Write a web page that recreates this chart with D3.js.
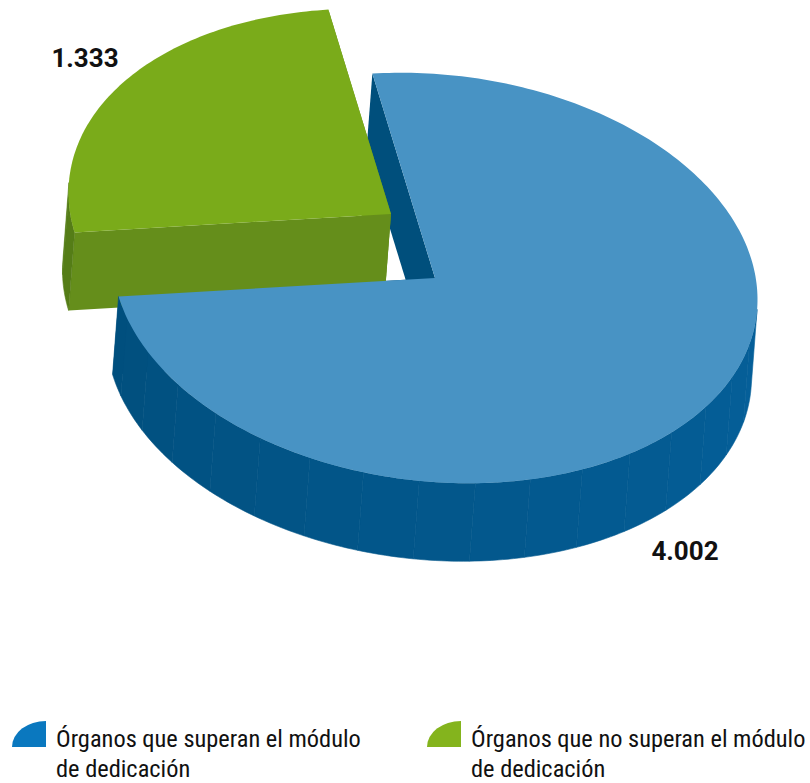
<!doctype html>
<html>
<head>
    <title>Órganos y módulo de dedicación</title>
    <meta charset="utf-8">
    <style type="text/css">
        body { margin: 0; background: #fff; }
        .value-label {
            font-family: Roboto, "Liberation Sans", sans-serif;
            font-weight: bold;
            font-size: 26px;
            fill: #111;
        }
        .legend text {
            font-family: "Liberation Sans Narrow", "Roboto Condensed", "Arial Narrow", sans-serif;
            font-size: 24.4px;
            fill: #111;
        }
    </style>
</head>
<body>
<div id="chart"></div>

<script src="https://d3js.org/d3.v7.min.js"></script>
<script>
    // data
    var categories = [
        ["Órganos que superan el módulo", "de dedicación"],
        ["Órganos que no superan el módulo", "de dedicación"]
    ];
    var values = [4002, 1333];

    // colours: top face, radial wall, outer wall (right -> left), legend swatch
    var topColors = ["#4893C4", "#7AAB1A"];
    var wallColors = ["#004F7C", "#658E1B"];
    var sideColors = [["#05609A", "#004D7B"], ["#557D17", "#557D17"]];
    var legendColors = ["#0A78BF", "#84B41D"];

    var width = 810, height = 783;
    var deg = Math.PI / 180;

    // projected disc: centre, images of the 3 o'clock and 6 o'clock radii, extrusion
    var cx = 435, cy = 278;
    var vr = [322, 10], vd = [18, 205];
    var depth = [-6, 78];
    var pulled = 1, pullShift = [-44, -64];
    var frontFrom = 96 * deg, frontTo = 276 * deg; // part of the rim facing the viewer
    var labelPos = [[685, 560], [85, 67]];

    var fmt = d3.formatLocale({ decimal: ",", thousands: ".", grouping: [3], currency: ["", "€"] }).format(",");

    var pie = d3.pie().sort(null)
        .startAngle(-8 * deg)
        .endAngle(352 * deg);
    var arcs = pie(values);

    function pt(a, o) {
        return [o[0] + Math.sin(a) * vr[0] - Math.cos(a) * vd[0],
                o[1] + Math.sin(a) * vr[1] - Math.cos(a) * vd[1]];
    }
    function arcPts(a0, a1, o) {
        var n = Math.max(2, Math.ceil((a1 - a0) / deg));
        return d3.range(n + 1).map(function (i) { return pt(a0 + (a1 - a0) * i / n, o); });
    }
    var poly = d3.line().curve(d3.curveLinearClosed);

    var svg = d3.select("#chart").append("svg")
        .attr("width", width)
        .attr("height", height);

    var gBack = svg.append("g"),
        gPulled = svg.append("g"),
        gFront = svg.append("g");

    arcs.forEach(function (d, i) {
        var o = i === pulled ? [cx + pullShift[0], cy + pullShift[1]] : [cx, cy];
        var o2 = [o[0] + depth[0], o[1] + depth[1]];
        var gWalls = i === pulled ? gPulled : gBack;
        var gFace = i === pulled ? gPulled : gFront;

        // radial walls
        [d.endAngle, d.startAngle].forEach(function (a) {
            gWalls.append("path")
                .attr("d", poly([o, pt(a, o), pt(a, o2), o2]))
                .attr("fill", wallColors[i]);
        });

        // outer rim, in facets
        var a0 = Math.max(d.startAngle, frontFrom), a1 = Math.min(d.endAngle, frontTo);
        if (a1 > a0) {
            var shade = d3.interpolateRgb(sideColors[i][0], sideColors[i][1]);
            var step = 10 * deg;
            for (var s = a0; s < a1; s += step) {
                var e = Math.min(a1, s + step);
                var pts = arcPts(s, e, o).concat(arcPts(s, e, o2).reverse());
                var c = shade(((s + e) / 2 - frontFrom) / (frontTo - frontFrom));
                gFace.append("path")
                    .attr("d", poly(pts))
                    .attr("fill", c)
                    .attr("stroke", c)
                    .attr("stroke-width", 0.6);
            }
        }

        // top face
        gFace.append("path")
            .attr("d", poly([o].concat(arcPts(d.startAngle, d.endAngle, o))))
            .attr("fill", topColors[i]);
    });

    // value labels
    svg.selectAll(".value-label")
        .data(arcs)
        .enter().append("text")
        .attr("class", "value-label")
        .attr("text-anchor", "middle")
        .attr("x", function (d, i) { return labelPos[i][0]; })
        .attr("y", function (d, i) { return labelPos[i][1]; })
        .text(function (d) { return fmt(d.value); });

    // legend
    var legendX = [12, 427], legendTop = 721, swW = 34, swH = 26;
    var legend = svg.append("g").attr("class", "legend");
    var item = legend.selectAll("g")
        .data(categories)
        .enter().append("g")
        .attr("transform", function (d, i) { return "translate(" + legendX[i] + "," + legendTop + ")"; });

    item.append("path")
        .attr("d", "M0," + swH + "L" + swW + "," + swH + "L" + swW + ",0A" + swW + "," + swH + " 0 0 0 0," + swH + "Z")
        .attr("fill", function (d, i) { return legendColors[i]; });

    item.append("text")
        .selectAll("tspan")
        .data(function (d) { return d; })
        .enter().append("tspan")
        .attr("x", swW + 10)
        .attr("y", function (d, j) { return 26 + j * 30; })
        .text(function (d) { return d; });
</script>
</body>
</html>
